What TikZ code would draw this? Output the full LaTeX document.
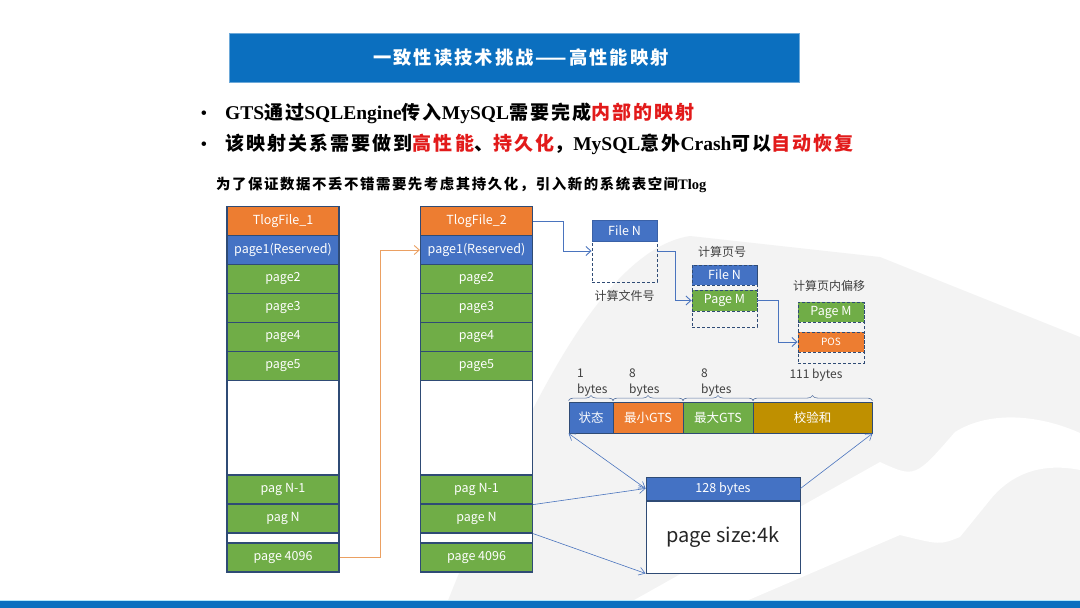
\documentclass[tikz,border=0pt]{standalone}
\usepackage{fontspec}
\setmainfont{Liberation Serif}
\newfontfamily\zh[LetterSpace=11]{Noto Sans CJK SC}
\newfontfamily\zhs{Noto Sans CJK SC}
\usetikzlibrary{arrows.meta,decorations.pathreplacing}

\definecolor{titleblue}{HTML}{0B6FBF}
\definecolor{cellblue}{HTML}{4472C4}
\definecolor{cellorange}{HTML}{ED7D31}
\definecolor{cellgreen}{HTML}{70AD47}
\definecolor{cellgold}{HTML}{BF9000}
\definecolor{cellline}{HTML}{2F4B75}
\definecolor{linkblue}{HTML}{4A74BE}
\definecolor{linkorange}{HTML}{EBA062}
\definecolor{hired}{HTML}{E21A1A}
\definecolor{wmgray}{HTML}{F3F3F3}

\newcommand{\hl}[1]{\textcolor{hired}{#1}}
\newcommand{\zhtxt}[1]{{\fontsize{19}{22}\zh #1}}

\tikzset{
  cell/.style={draw=cellline, line width=1.2pt, minimum width=112pt, minimum height=29pt,
    inner sep=0pt, text=white, font=\zhs\fontsize{12.5}{14}\selectfont},
  dashbox/.style={draw=cellline, dashed, dash pattern=on 3pt off 2pt, line width=0.9pt, inner sep=0pt},
  tag/.style={inner sep=0pt, text=white, font=\zhs\fontsize{12.5}{14}\selectfont},
  note/.style={inner sep=0pt, text=black!75, font=\zhs\fontsize{12}{15.5}\selectfont},
  byte/.style={draw=cellline, line width=0.9pt, minimum height=31pt, inner sep=0pt,
    text=white, font=\zhs\fontsize{12.5}{14}\selectfont},
  link/.style={draw=linkblue, line width=0.9pt, -{Straight Barb[length=5pt,width=9pt]}},
  thin link/.style={draw=linkblue, line width=0.6pt, -{Straight Barb[length=6pt,width=8pt]}},
  bytebrace/.style={decorate, decoration={brace, amplitude=5pt, raise=1pt}, draw=linkblue!60!gray, line width=0.6pt}
}

\begin{document}
\begin{tikzpicture}[x=1pt, y=-1pt]
  \useasboundingbox[fill=white] (0,0) rectangle (1080,608);

  % watermark in the background
  \fill[wmgray] (445,608) .. controls (520,420) and (600,250) .. (690,236) -- (880,257) -- (1080,337) -- (1080,608) -- cycle;
  \fill[white] (620,608) -- (880,462) .. controls (915,478) .. (955,432) .. controls (990,410) and (1040,415) .. (1080,433)
    -- (1080,470) .. controls (1040,462) and (1010,475) .. (990,500) -- (960,537) .. controls (940,545) .. (900,535) -- (730,608) -- cycle;

  % footer band
  \fill[cyan!30] (0,599.5) rectangle (1080,601);
  \fill[titleblue] (0,601) rectangle (1080,608);

  % title and bullets
  \node[fill=titleblue, draw=titleblue!60!white, line width=0.5pt, minimum width=570pt, minimum height=49pt,
    text=white, font=\fontsize{18.3}{20}\zh\bfseries] (title) at (514,57.5) {\hspace*{14pt}一致性读技术挑战——高性能映射};
  \node[anchor=base, font=\fontsize{19}{22}\selectfont] (dot1) at (204,119) {\textbullet};
  \node[anchor=base, font=\fontsize{19}{22}\selectfont] (dot2) at (204,150) {\textbullet};
  \node[anchor=base west, inner sep=0pt, font=\fontsize{19.5}{22}\selectfont\bfseries] (line1) at (225,119)
    {GTS\zhtxt{通过}SQLEngine\zhtxt{传入}MySQL\zhtxt{需要完成}\hl{\zhtxt{内部的映射}}};
  \node[anchor=base west, inner sep=0pt, font=\fontsize{19.5}{22}\selectfont\bfseries] (line2) at (225,150)
    {\zhtxt{该映射关系需要做到}\hl{\zhtxt{高性能}}\zhtxt{、}\hl{\zhtxt{持久化}}\zhtxt{，}MySQL\zhtxt{意外}Crash\zhtxt{可以}\hl{\zhtxt{自动恢复}}};
  \node[anchor=base west, inner sep=0pt, font=\fontsize{14.5}{18}\selectfont\bfseries] (line3) at (216,189)
    {{\fontsize{14.4}{18}\zh 为了保证数据不丢不错需要先考虑其持久化，引入新的系统表空间}Tlog};

  % the two tablespace files
  \foreach \k/\x/\lbl in {1/283/pag N, 2/476.5/page N} {
    \draw[draw=cellline, line width=1.2pt, fill=white] ({\x-56},207) rectangle ({\x+56},572);
    \node[cell, fill=cellorange] (head\k) at (\x,221) {TlogFile\_\k};
    \node[cell, fill=cellblue] (res\k) at (\x,250) {page1(Reserved)};
    \foreach \i/\y in {2/279,3/308,4/337,5/366}
      \node[cell, fill=cellgreen] (pg\k-\i) at (\x,\y) {page\i};
    \node[cell, fill=cellgreen] (prev\k) at (\x,489.5) {pag N-1};
    \node[cell, fill=cellgreen] (cur\k) at (\x,518.5) {\lbl};
    \node[cell, fill=cellgreen] (end\k) at (\x,557.5) {page 4096};
  }

  % mapping steps
  \node[dashbox, minimum width=65pt, minimum height=62pt] (fbox) at (624.5,251) {};
  \node[tag, fill=cellblue, draw=cellblue!85!black, line width=0.9pt, minimum width=65pt, minimum height=21pt] (fn1) at (624.5,230.5) {File N};
  \node[note] (lblfile) at (624.5,296) {计算文件号};

  \node[dashbox, minimum width=65pt, minimum height=62pt] (pbox) at (724.5,296) {};
  \node[tag, dashbox, fill=cellblue, minimum width=65pt, minimum height=20pt] (fn2) at (724.5,275) {File N};
  \node[tag, dashbox, fill=cellgreen, minimum width=65pt, minimum height=21pt] (pm1) at (724.5,300.5) {Page M};
  \node[note] (lblpage) at (722,252) {计算页号};

  \node[dashbox, minimum width=66pt, minimum height=61pt] (obox) at (831,332.5) {};
  \node[tag, dashbox, fill=cellgreen, minimum width=66pt, minimum height=20pt] (pm2) at (831,312) {Page M};
  \node[tag, dashbox, fill=cellorange, minimum width=66pt, minimum height=20pt, font=\zhs\fontsize{10}{12}\selectfont] (pos) at (831,342) {POS};
  \node[note] (lbloff) at (829,286) {计算页内偏移};

  \draw[link, draw=linkorange] (end1.east) -- ++(41,0) |- (res2.west);
  \draw[link] (head2.east) -- ++(30,0) |- (fbox.west);
  \draw[link] (fbox.east) -- ++(18,0) |- (pm1.west);
  \draw[link] (pm1.east) -- ++(21,0) |- (pos.west);

  % page header layout
  \node[byte, fill=cellblue, minimum width=44pt] (st) at (591,417.5) {状态};
  \node[byte, fill=cellorange, minimum width=70pt] (mingts) at (648,417.5) {最小GTS};
  \node[byte, fill=cellgreen, minimum width=70pt] (maxgts) at (718,417.5) {最大GTS};
  \node[byte, fill=cellgold, minimum width=119pt] (crc) at (812.5,417.5) {校验和};
  \foreach \b in {st,mingts,maxgts,crc}
    \draw[bytebrace] (\b.north west) -- (\b.north east);
  \node[note, align=left, anchor=north west] (sz1) at (577,369) {1\\bytes};
  \node[note, align=left, anchor=north west] (sz2) at (629,369) {8\\bytes};
  \node[note, align=left, anchor=north west] (sz3) at (701,369) {8\\bytes};
  \node[note] (sz4) at (816,375) {111 bytes};

  \node[tag, fill=cellblue, draw=cellline, line width=0.9pt, minimum width=154pt, minimum height=23pt] (hdr) at (723,488.5) {128 bytes};
  \node[draw=cellline, line width=0.9pt, fill=white, minimum width=154pt, minimum height=72pt,
    text=black!85, font=\zhs\fontsize{20}{24}\selectfont] (body) at (723,537) {page size:4k};

  \draw[thin link, {Straight Barb[length=6pt,width=8pt]}-{Straight Barb[length=6pt,width=8pt]}] (st.south west) -- (hdr.west);
  \draw[thin link] (hdr.east) -- (crc.south east);
  \draw[thin link] (prev2.south east) -- (hdr.west);
  \draw[thin link] (cur2.south east) -- (body.south west);
\end{tikzpicture}
\end{document}
